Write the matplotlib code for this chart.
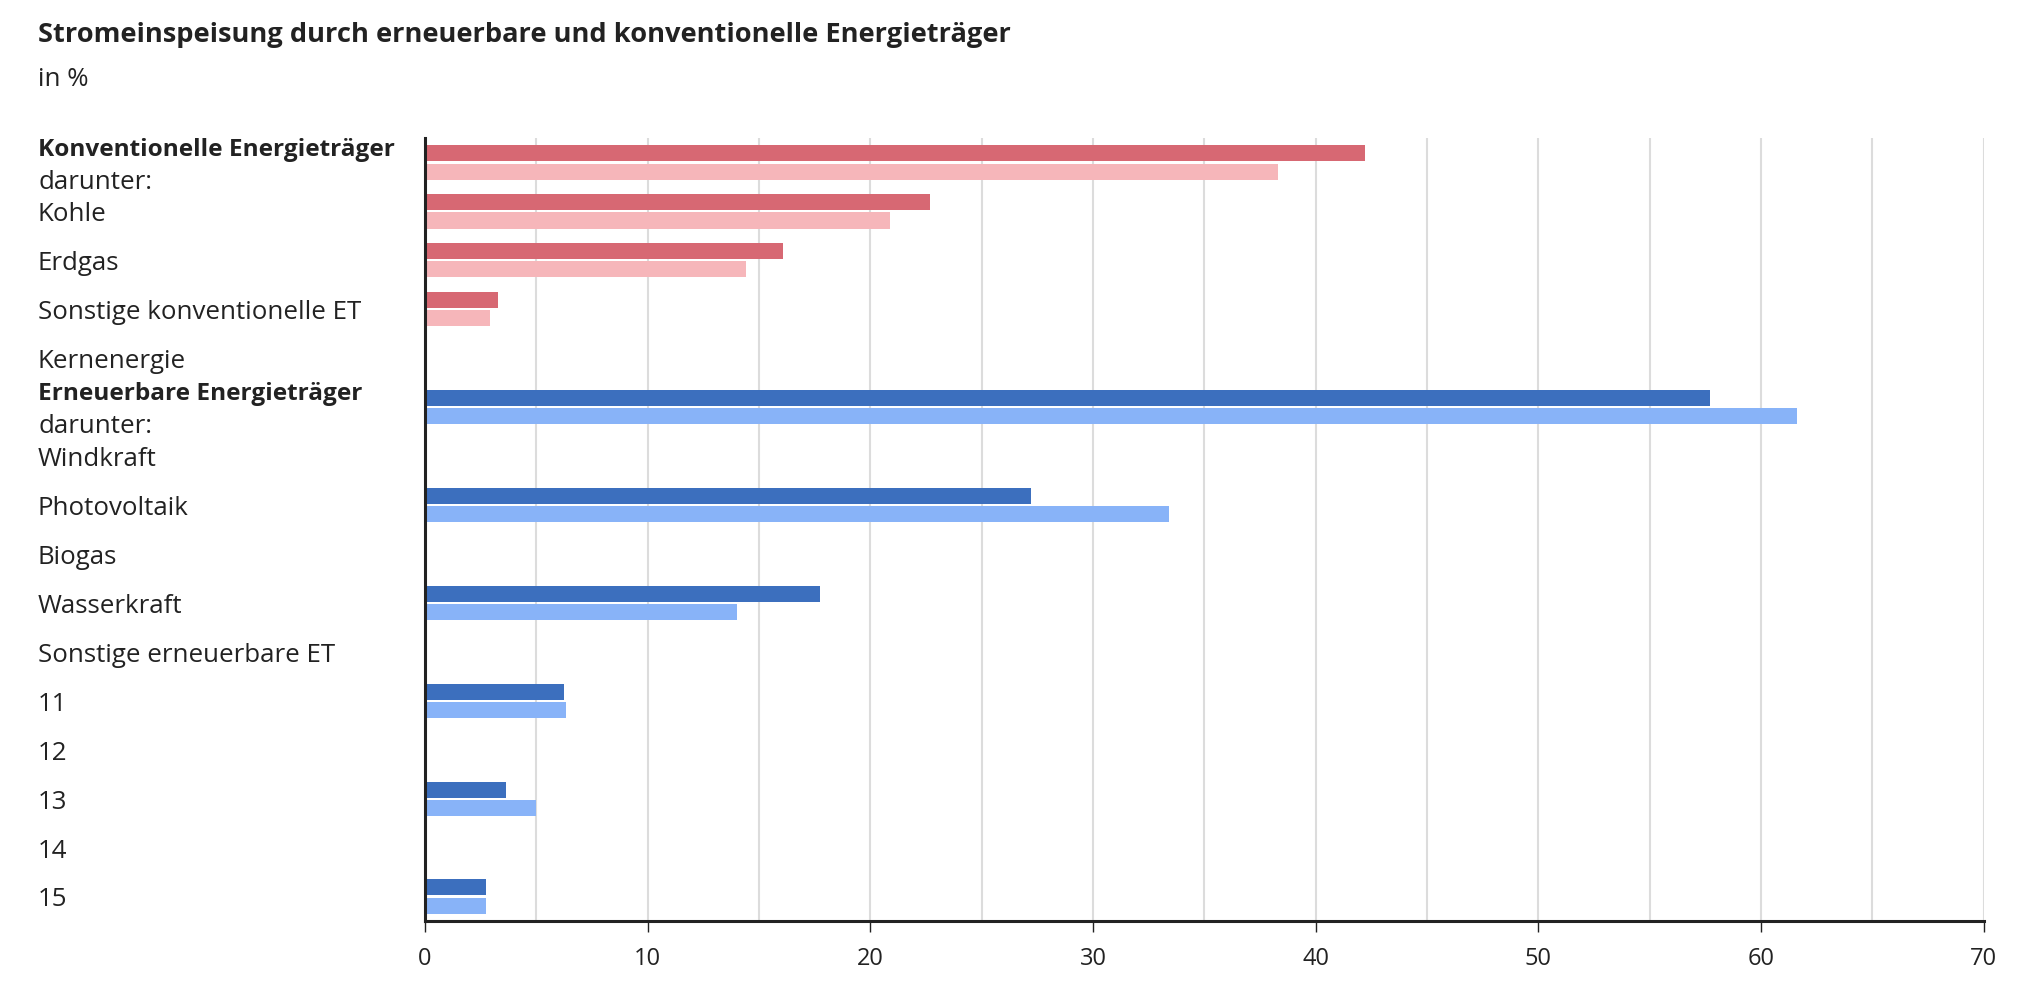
import matplotlib
matplotlib.use("Agg")
import matplotlib.pyplot as plt
import matplotlib.transforms as mtransforms
import numpy as np

plt.rcParams['font.family'] = ['Open Sans', 'DejaVu Sans']

# Daten
labels = ["Konventionelle Energieträger", "Kohle", "Erdgas", "Sonstige konventionelle ET",
          "Kernenergie", "Erneuerbare Energieträger", "Windkraft", "Photovoltaik", "Biogas",
          "Wasserkraft", "Sonstige erneuerbare ET", "11", "12", "13", "14", "15"]
is_header = [True, False, False, False, False, True, False, False, False,
             False, False, False, False, False, False, False]
group = ["konv"] * 5 + ["ern"] * 11
series_dark = [42.2, 22.7, 16.1, 3.3, np.nan, 57.7, np.nan, 27.2, np.nan,
               17.75, np.nan, 6.25, np.nan, 3.65, np.nan, 2.75]
series_light = [38.3, 20.9, 14.4, 2.9, np.nan, 61.6, np.nan, 33.4, np.nan,
                14.0, np.nan, 6.35, np.nan, 5.0, np.nan, 2.75]
xticks = [0, 10, 20, 30, 40, 50, 60, 70]

colors_dark = {"konv": "#d76873", "ern": "#3c6fbe"}
colors_light = {"konv": "#f6b6ba", "ern": "#88b3f8"}
textcol = "#222222"

fig = plt.figure(figsize=(20.18, 9.96), dpi=100)
ax = fig.add_axes([0.2106, 0.0753, 0.7724, 0.7861])

rows = np.arange(len(labels))
bh = 0.327
off = 0.185
for i in rows:
    if np.isfinite(series_dark[i]):
        ax.barh(i - off, series_dark[i], height=bh, color=colors_dark[group[i]], zorder=3)
    if np.isfinite(series_light[i]):
        ax.barh(i + off, series_light[i], height=bh, color=colors_light[group[i]], zorder=3)

ax.set_xlim(0, 70)
ax.set_ylim(len(labels) - 0.5, -0.5)

ax.set_xticks(xticks)
ax.set_xticks(np.arange(5, 70, 10), minor=True)
ax.tick_params(axis='x', which='major', length=8, width=1.0, color=textcol,
               labelsize=17, labelcolor=textcol, pad=11)
ax.tick_params(axis='x', which='minor', length=0)
ax.set_yticks([])
ax.grid(axis='x', which='both', color='#dcdcdc', linewidth=1.5, zorder=0)
ax.set_axisbelow(True)

for s in ['top', 'right']:
    ax.spines[s].set_visible(False)
ax.spines['left'].set_color(textcol)
ax.spines['left'].set_linewidth(2.2)
ax.spines['bottom'].set_color(textcol)
ax.spines['bottom'].set_linewidth(2.2)
ax.spines['left'].set_zorder(4)

# Beschriftungen links
trans = mtransforms.blended_transform_factory(fig.transFigure, ax.transData)
lx = 38 / 2018
dy = 0.07
for i, lab in enumerate(labels):
    if is_header[i]:
        ax.text(lx, i - 0.33 + dy, lab, transform=trans, ha='left', va='center',
                fontsize=17.6, fontweight='bold', color=textcol)
        ax.text(lx, i + 0.33 + dy, "darunter:", transform=trans, ha='left', va='center',
                fontsize=18.6, color=textcol)
    else:
        ax.text(lx, i + dy, lab, transform=trans, ha='left', va='center',
                fontsize=18.6, color=textcol)

fig.text(lx, 1 - 35 / 996, "Stromeinspeisung durch erneuerbare und konventionelle Energieträger",
         ha='left', va='center', fontsize=19.6, fontweight='bold', color=textcol)
fig.text(lx, 1 - 79 / 996, "in %", ha='left', va='center', fontsize=18.6, color=textcol)

fig.savefig("out.png", dpi=100, facecolor='white')
